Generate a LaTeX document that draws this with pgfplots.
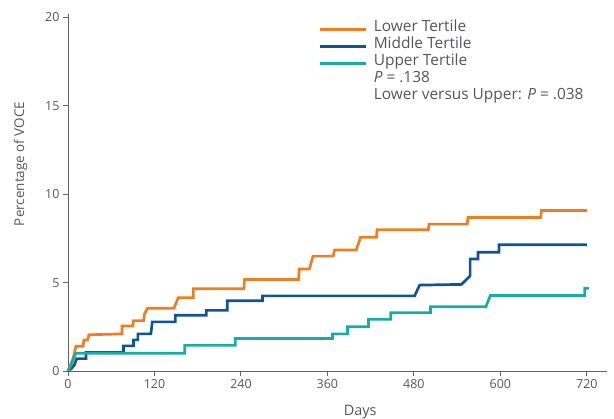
\documentclass[border=0pt]{standalone}
\usepackage{pgfplots}
\pgfplotsset{compat=1.18}
\usepackage{fontspec}
\setmainfont{Open Sans}
\definecolor{txtgray}{RGB}{85,86,90}
\definecolor{axgray}{RGB}{100,100,100}
\definecolor{corange}{RGB}{240,125,32}
\definecolor{cblue}{RGB}{18,84,146}
\definecolor{cteal}{RGB}{24,172,166}
\begin{document}
\begin{tikzpicture}
\useasboundingbox (-68bp,-48bp) rectangle (546bp,371bp);
\begin{axis}[
  scale only axis,
  width=539bp, height=357bp,
  at={(0,0)}, anchor=south west,
  xmin=0, xmax=748, ymin=0, ymax=20.2,
  axis x line*=bottom, axis y line*=left,
  axis line style={axgray, line width=0.9pt, -},
  xtick={0,120,240,360,480,600,720},
  ytick={0,5,10,15,20},
  tick style={axgray, line width=0.9pt},
  tick align=outside,
  major tick length=5bp,
  ticklabel style={font=\fontsize{12.5}{14}\selectfont, text=txtgray},
  /pgf/number format/assume math mode=true,
  xlabel={Days}, ylabel={Percentage of VOCE},
  xlabel style={font=\fontsize{14.5}{16}\selectfont, text=txtgray, at={(rel axis cs:0.542,0)}, anchor=north, yshift=-31bp},
  ylabel style={font=\fontsize{13.5}{15}\selectfont, text=txtgray, at={(rel axis cs:0,0.58)}, anchor=south, yshift=37bp},
  clip=false,
  legend style={at={(rel axis cs:0.464,0.985)}, anchor=north west, draw=none, fill=none,
    font=\fontsize{15.5}{17}\selectfont, text=txtgray, row sep=0bp, inner sep=0pt,
    nodes={inner sep=0bp, text height=12bp, text depth=5bp}},
  legend cell align=left,
  legend image code/.code={\draw[#1, line width=3pt] (0bp,-1bp) -- (46bp,-1bp); \path[draw=none, fill=none] (0,0) -- (54bp,0);},
]
\addplot[corange, line width=2.7pt] coordinates {
(0,0)(3,0.3)(7,0.7)(11,1.4)(21,1.4)(22,1.75)(27,1.75)(29,2.05)(75,2.1)(75,2.55)(90,2.55)(91,2.85)(105,2.85)(106,3.2)(110,3.55)(147,3.55)(153,4.15)(174,4.15)(174,4.65)(244,4.65)(245,5.18)(320,5.18)(321,5.77)(335,5.77)(340,6.5)(368,6.5)(370,6.85)(400,6.85)(406,7.57)(428,7.57)(429,7.99)(500,7.99)(501,8.31)(554,8.31)(555,8.69)(656,8.69)(657,9.08)(720,9.08)
};
\addlegendentry{Lower Tertile}
\addplot[cblue, line width=2.7pt] coordinates {
(0,0)(5,0.15)(9,0.35)(12,0.7)(25,0.7)(25,1.05)(77,1.05)(77,1.42)(91,1.42)(91,1.76)(97,1.76)(97,2.1)(115,2.1)(117,2.78)(149,2.78)(149,3.15)(192,3.15)(192,3.43)(221,3.43)(221,3.98)(270,3.98)(270,4.25)(481,4.25)(488,4.86)(546,4.9)(558,5.38)(558,6.34)(569,6.34)(569,6.72)(598,6.72)(598,7.14)(720,7.14)
};
\addlegendentry{Middle Tertile}
\addplot[cteal, line width=2.7pt] coordinates {
(0,0)(4,0.3)(8,0.75)(11,1.0)(162,1.0)(162,1.45)(232,1.45)(232,1.84)(367,1.84)(367,2.1)(388,2.1)(388,2.5)(417,2.5)(417,2.92)(448,2.92)(448,3.3)(503,3.3)(503,3.64)(580,3.64)(586,4.27)(717,4.27)(717,4.68)(723,4.68)
};
\addlegendentry{Upper Tertile}
\addlegendimage{empty legend}
\addlegendentry{\textit{P} = .138}
\addlegendimage{empty legend}
\addlegendentry{Lower versus Upper: \textit{P} = .038}
\end{axis}
\end{tikzpicture}
\end{document}
